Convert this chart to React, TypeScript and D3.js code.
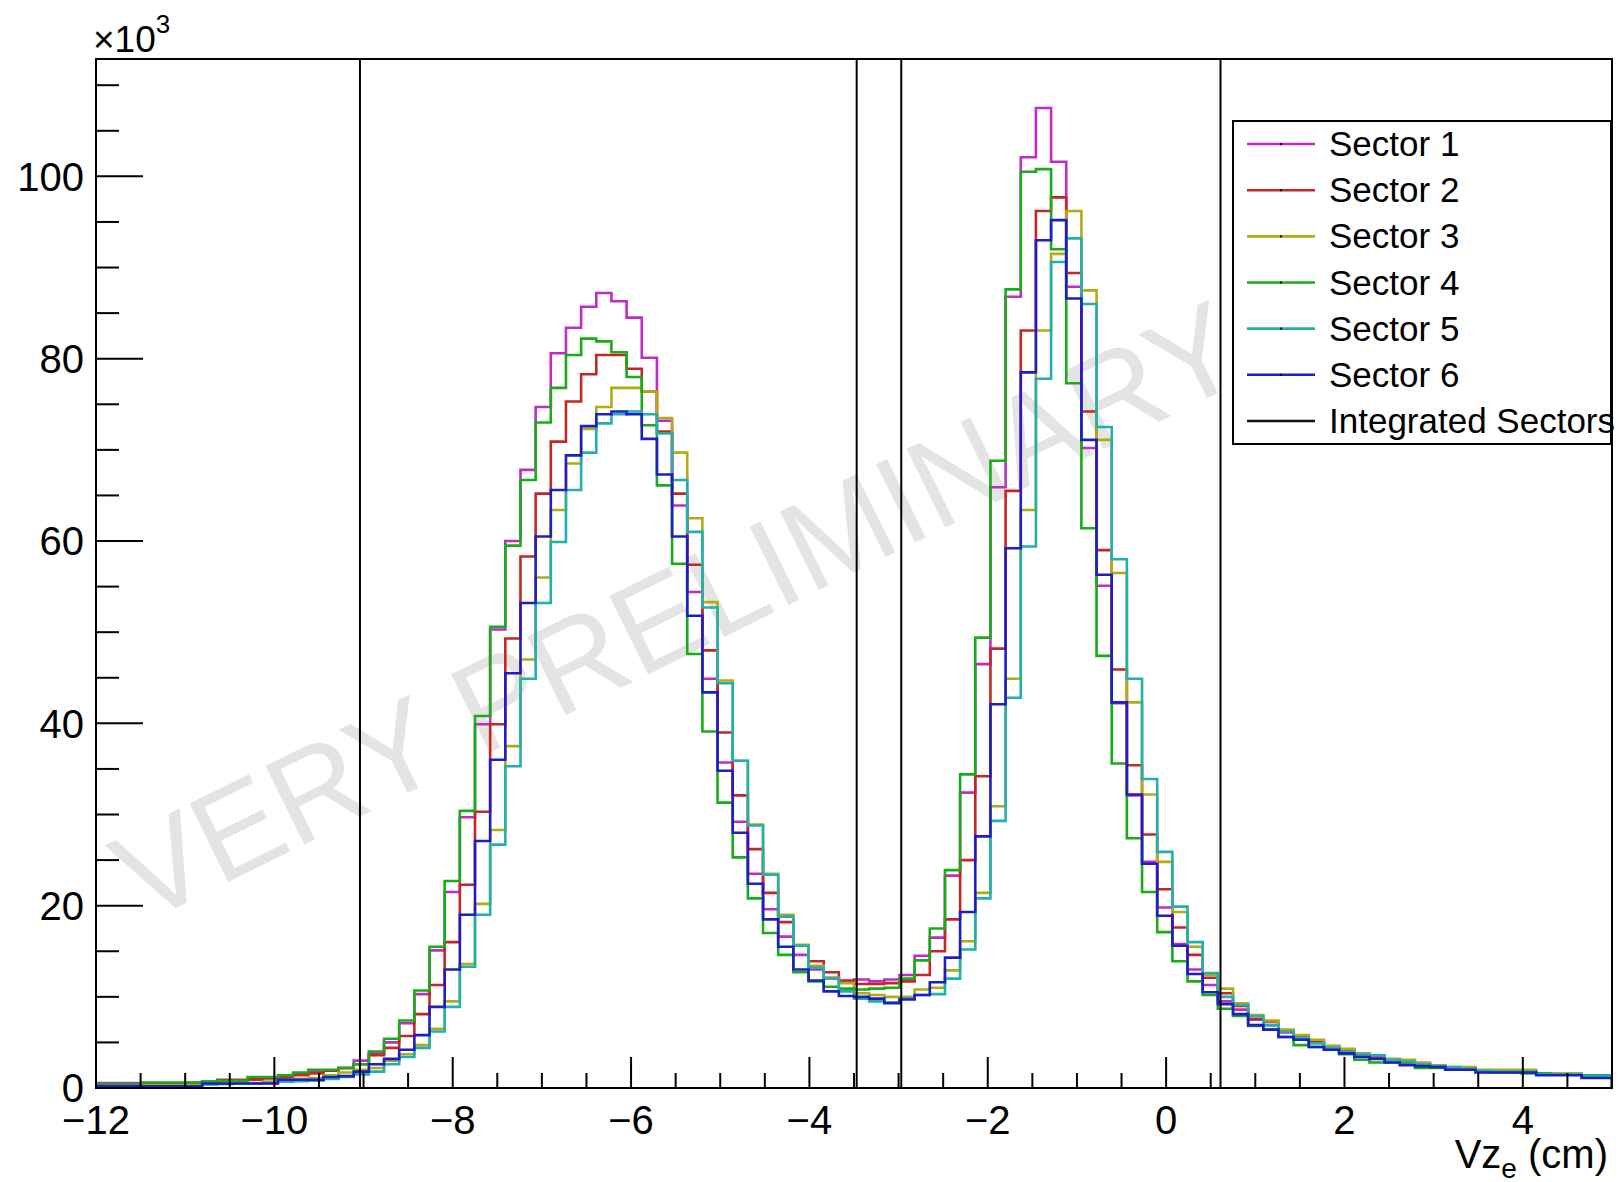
import React from "react";
import * as d3 from "d3";

// ---- axis / binning ----
const X_MIN = -12;
const X_MAX = 5;
const N_BINS = 100;
const xMajorTicks = [-12, -10, -8, -6, -4, -2, 0, 2, 4];
const yMajorTicks = [0, 20, 40, 60, 80, 100];
const cutLines = [-9.04, -3.47, -2.97, 0.61];

// ---- series values (x10^3 counts), 100 bins from -12 to 5 cm ----
const sector1 = [
  0.55, 0.55, 0.55, 0.5, 0.5, 0.5, 0.55, 0.7, 0.75, 0.85,
  0.9, 1.05, 1.15, 1.4, 1.8, 1.9, 2.2, 3.0, 3.8, 5.0,
  7.1, 10.3, 15.1, 21.5, 29.7, 39.9, 50.3, 60.0, 67.8, 74.7,
  80.6, 83.4, 85.7, 87.2, 86.3, 84.5, 80.1, 73.2, 63.9, 54.4,
  44.9, 35.7, 29.2, 23.5, 19.6, 16.6, 14.6, 13.0, 12.1, 11.6,
  11.9, 11.7, 11.9, 12.4, 14.5, 16.5, 23.3, 32.4, 46.5, 65.9,
  86.8, 102.1, 107.5, 101.6, 87.9, 70.2, 55.1, 42.2, 32.1, 24.8,
  19.8, 15.8, 13.0, 11.3, 9.5, 8.6, 7.5, 6.9, 6.1, 5.4,
  5.0, 4.5, 4.1, 3.6, 3.4, 3.1, 2.9, 2.6, 2.4, 2.2,
  2.1, 1.9, 1.8, 1.8, 1.7, 1.6, 1.5, 1.5, 1.3, 1.3,
];
const sector2 = [
  0.3, 0.3, 0.3, 0.55, 0.5, 0.5, 0.55, 0.6, 0.9, 0.9,
  0.95, 1.1, 1.2, 1.5, 1.6, 1.9, 2.2, 2.6, 3.6, 4.4,
  5.7, 8.1, 11.3, 16.0, 22.3, 30.3, 39.9, 49.3, 58.3, 65.2,
  70.9, 75.3, 78.3, 80.4, 80.4, 78.9, 76.4, 72.0, 65.2, 57.4,
  48.0, 39.0, 32.1, 26.2, 21.4, 18.2, 15.6, 13.9, 12.7, 11.8,
  11.4, 11.4, 11.5, 11.7, 12.4, 15.0, 18.5, 25.0, 34.2, 48.2,
  65.5, 83.1, 96.2, 97.7, 89.4, 74.2, 59.0, 45.9, 35.4, 27.8,
  21.8, 17.6, 14.6, 12.1, 10.4, 9.0, 7.6, 7.3, 6.3, 5.6,
  5.1, 4.6, 4.2, 3.8, 3.5, 3.1, 2.8, 2.6, 2.4, 2.2,
  2.1, 1.9, 1.8, 1.8, 1.7, 1.6, 1.5, 1.5, 1.3, 1.3,
];
const sector3 = [
  0.3, 0.3, 0.3, 0.3, 0.3, 0.3, 0.3, 0.4, 0.45, 0.5,
  0.55, 0.7, 0.8, 1.0, 1.1, 1.4, 1.7, 2.0, 2.2, 3.0,
  3.7, 4.7, 6.5, 9.5, 13.6, 20.2, 28.3, 37.5, 47.0, 56.0,
  63.4, 68.5, 72.3, 74.7, 76.8, 76.8, 76.4, 73.5, 69.7, 62.5,
  53.3, 44.7, 35.9, 28.9, 23.5, 19.0, 15.7, 13.4, 12.1, 11.5,
  10.4, 10.2, 10.0, 10.0, 10.8, 11.0, 12.9, 16.1, 21.4, 30.9,
  44.9, 63.4, 83.1, 91.5, 96.2, 87.5, 71.1, 56.5, 42.3, 32.2,
  24.8, 19.3, 15.5, 12.4, 10.9, 9.3, 8.0, 7.4, 6.4, 5.8,
  5.3, 4.6, 4.3, 3.8, 3.6, 3.2, 3.1, 2.8, 2.5, 2.3,
  2.3, 2.0, 2.0, 2.0, 2.0, 1.6, 1.6, 1.6, 1.4, 1.4,
];
const sector4 = [
  0.4, 0.4, 0.4, 0.6, 0.6, 0.6, 0.6, 0.7, 0.8, 0.8,
  1.2, 1.2, 1.4, 1.7, 2.0, 2.0, 2.2, 2.6, 4.0, 5.4,
  7.4, 10.7, 15.5, 22.7, 30.4, 40.8, 50.6, 59.5, 66.7, 73.0,
  76.8, 80.4, 82.2, 81.9, 80.7, 78.0, 72.7, 66.1, 57.5, 47.6,
  39.1, 31.3, 25.3, 20.8, 17.0, 14.6, 12.7, 11.7, 11.1, 10.9,
  10.8, 10.9, 11.0, 12.0, 14.0, 17.5, 23.9, 34.4, 49.4, 68.8,
  87.6, 100.5, 100.8, 92.0, 77.3, 61.4, 47.4, 35.6, 27.4, 21.5,
  17.1, 13.9, 11.7, 10.2, 8.7, 7.9, 6.8, 6.4, 5.6, 4.7,
  4.5, 4.2, 3.7, 3.1, 2.8, 2.8, 2.6, 2.2, 2.2, 2.0,
  2.0, 1.8, 1.7, 1.7, 1.6, 1.6, 1.5, 1.5, 1.4, 1.4,
];
const sector5 = [
  0.1, 0.1, 0.1, 0.1, 0.1, 0.1, 0.1, 0.4, 0.45, 0.5,
  0.5, 0.55, 0.7, 0.75, 0.8, 1.0, 1.2, 1.5, 1.8, 2.6,
  3.4, 4.4, 6.2, 8.9, 13.3, 19.0, 26.7, 35.3, 44.9, 53.2,
  59.9, 65.6, 69.7, 72.9, 73.9, 74.2, 73.9, 71.8, 66.7, 61.0,
  52.7, 44.4, 35.9, 28.8, 23.4, 18.8, 15.6, 13.2, 12.0, 10.6,
  9.8, 9.5, 9.4, 9.8, 10.2, 10.3, 12.0, 15.2, 20.8, 29.3,
  42.8, 59.4, 77.8, 90.6, 93.2, 86.0, 72.5, 58.0, 44.9, 33.9,
  25.9, 19.9, 16.0, 12.6, 10.0, 9.1, 7.9, 6.9, 6.2, 5.5,
  4.9, 4.4, 4.0, 3.7, 3.6, 3.1, 2.9, 2.6, 2.4, 2.3,
  2.1, 1.9, 1.8, 1.8, 1.8, 1.5, 1.5, 1.5, 1.3, 1.3,
];
const sector6 = [
  0.2, 0.2, 0.2, 0.2, 0.2, 0.2, 0.2, 0.5, 0.5, 0.5,
  0.5, 0.5, 0.9, 0.9, 0.9, 1.2, 1.3, 1.8, 2.6, 3.2,
  4.2, 5.8, 8.9, 13.0, 19.0, 27.1, 36.0, 45.5, 53.2, 60.5,
  65.6, 69.4, 72.6, 73.9, 74.2, 73.9, 71.2, 67.3, 60.5, 51.8,
  43.4, 34.8, 28.0, 22.4, 18.5, 15.5, 13.0, 11.8, 10.6, 10.1,
  10.0, 9.8, 9.3, 9.7, 10.2, 11.6, 14.3, 19.3, 27.6, 42.1,
  59.2, 78.5, 93.0, 95.2, 86.6, 71.1, 56.3, 42.3, 32.2, 24.6,
  18.9, 15.6, 12.5, 10.5, 9.2, 8.1, 6.9, 6.4, 5.6, 5.3,
  4.5, 4.2, 3.8, 3.4, 3.2, 2.8, 2.5, 2.4, 2.3, 2.0,
  2.0, 1.7, 1.7, 1.7, 1.7, 1.4, 1.4, 1.4, 1.1, 1.1,
];

const seriesNames = ["Sector 1", "Sector 2", "Sector 3", "Sector 4", "Sector 5", "Sector 6"];
const seriesValues = [sector1, sector2, sector3, sector4, sector5, sector6];
const seriesColors = ["#c02cc4", "#c42626", "#b2ab12", "#18ad18", "#20b0b0", "#1e1ec4"];
const legendNames = [...seriesNames, "Integrated Sectors"];
const legendColors = [...seriesColors, "#111111"];

const FONT = "'Liberation Sans', Arial, Helvetica, sans-serif";

export default function App() {
  const W = 1621;
  const H = 1182;
  const left = 96, right = 1612, top = 59, bottom = 1088;

  const yMax = (d3.max(seriesValues.flat()) as number) * 1.05;
  const x = d3.scaleLinear().domain([X_MIN, X_MAX]).range([left, right]);
  const y = d3.scaleLinear().domain([0, yMax]).range([bottom, top]);
  const binW = (X_MAX - X_MIN) / N_BINS;

  const stepPath = (vals: number[]) => {
    const pts: [number, number][] = [[X_MIN, 0]];
    vals.forEach((v, i) => {
      pts.push([X_MIN + i * binW, v]);
      pts.push([X_MIN + (i + 1) * binW, v]);
    });
    pts.push([X_MAX, 0]);
    return d3.line<[number, number]>().x((d) => x(d[0])).y((d) => y(d[1]))(pts) as string;
  };

  const xMinor = d3.range(X_MIN, X_MAX + 0.001, 0.5);
  const yMinor = d3.range(0, yMax, 5);
  const fmt = (v: number) => (v < 0 ? "\u2212" + Math.abs(v) : String(v));

  const lgX0 = 1233, lgX1 = 1611, lgY0 = 121, lgY1 = 444;
  const rowH = (lgY1 - lgY0) / legendNames.length;

  return (
    <svg
      width={W}
      height={H}
      style={{ position: "absolute", left: 0, top: 0, background: "#fff" }}
      fontFamily={FONT}
    >
      <defs>
        <clipPath id="frameClip">
          <rect x={left} y={top} width={right - left} height={bottom - top} />
        </clipPath>
      </defs>
      <rect x={0} y={0} width={W} height={H} fill="#fff" />

      {/* watermark */}
      <text
        transform={`translate(143,924) rotate(-26.3)`}
        fontSize={127}
        fill="#e4e4e4"
        fontFamily={FONT}
      >
        VERY PRELIMINARY
      </text>

      {/* histograms */}
      <g clipPath="url(#frameClip)">
        {seriesValues.map((vals, k) => (
          <path
            key={k}
            d={stepPath(vals)}
            fill="none"
            stroke={seriesColors[k]}
            strokeWidth={2.6}
            strokeLinejoin="miter"
          />
        ))}
      </g>

      {/* cut lines */}
      {cutLines.map((c, i) => (
        <line key={i} x1={x(c)} x2={x(c)} y1={bottom} y2={top} stroke="#000" strokeWidth={2} />
      ))}

      {/* frame */}
      <rect x={left} y={top} width={right - left} height={bottom - top} fill="none" stroke="#000" strokeWidth={2} />

      {/* y ticks */}
      {yMinor.map((v, i) => {
        const major = yMajorTicks.includes(v);
        return (
          <line key={i} x1={left} x2={left + (major ? 47 : 23)} y1={y(v)} y2={y(v)} stroke="#000" strokeWidth={2} />
        );
      })}
      {yMajorTicks.map((v) => (
        <text key={v} x={84} y={y(v) + 14.3} textAnchor="end" fontSize={40} fill="#000">
          {v}
        </text>
      ))}

      {/* x ticks */}
      {xMinor.map((v, i) => {
        const major = xMajorTicks.some((t) => Math.abs(t - v) < 1e-6);
        return (
          <line key={i} x1={x(v)} x2={x(v)} y1={bottom} y2={bottom - (major ? 31 : 15)} stroke="#000" strokeWidth={2} />
        );
      })}
      {xMajorTicks.map((v) => (
        <text key={v} x={x(v)} y={1134} textAnchor="middle" fontSize={40} fill="#000">
          {fmt(v)}
        </text>
      ))}

      {/* exponent */}
      <text x={93} y={52} fontSize={37} fill="#000">
        {"\u00d710"}
        <tspan fontSize={26} dy={-19}>3</tspan>
      </text>

      {/* x title */}
      <text x={1608} y={1168} textAnchor="end" fontSize={40} fill="#000">
        Vz<tspan fontSize={28} dy={10}>e</tspan>
        <tspan dy={-10}> (cm)</tspan>
      </text>

      {/* legend */}
      <rect x={lgX0} y={lgY0} width={lgX1 - lgX0} height={lgY1 - lgY0} fill="#fff" stroke="#000" strokeWidth={2} />
      {legendNames.map((name, k) => {
        const cy = lgY0 + rowH * (k + 0.5);
        return (
          <g key={name}>
            <line x1={1247} x2={1315} y1={cy} y2={cy} stroke={legendColors[k]} strokeWidth={2.6} />
            {k < 6 && <rect x={1280} y={cy - 1} width={2} height={2} fill="#000" />}
            <text x={1329} y={cy + 12} fontSize={35} fill="#000">
              {name}
            </text>
          </g>
        );
      })}
    </svg>
  );
}
